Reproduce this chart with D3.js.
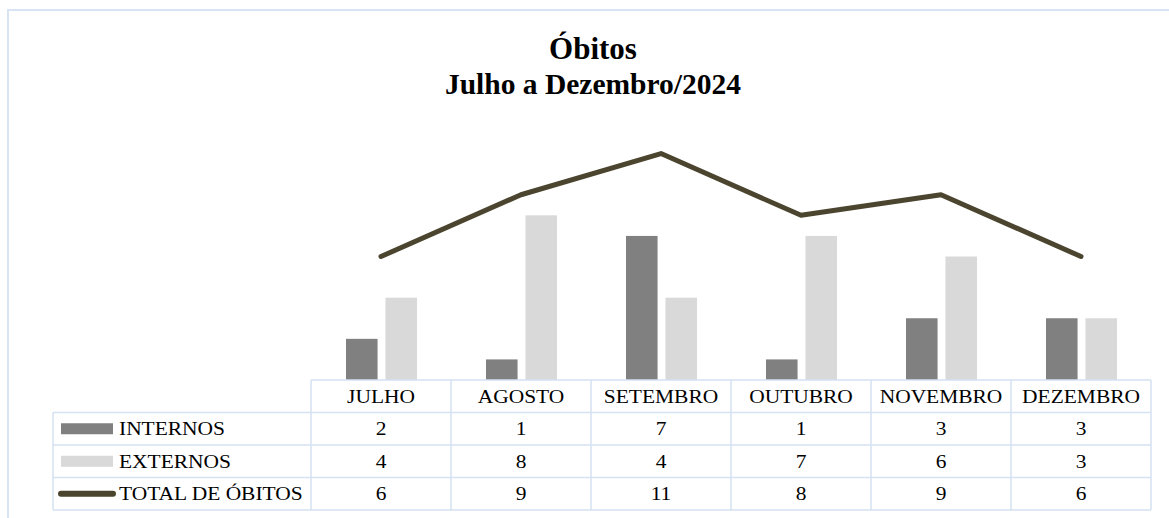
<!DOCTYPE html>
<html>
<head>
<meta charset="utf-8">
<script src="https://cdn.jsdelivr.net/npm/d3@7"></script>
<style>
  body { margin: 0; background: #fff; }
  svg { display: block; font-family: "Liberation Serif", "Times New Roman", serif; }
</style>
</head>
<body>
<div id="chart"></div>
<script>
const width = 1169;
const height = 518;

const months = ["JULHO", "AGOSTO", "SETEMBRO", "OUTUBRO", "NOVEMBRO", "DEZEMBRO"];
const internos = [2, 1, 7, 1, 3, 3];
const externos = [4, 8, 4, 7, 6, 3];
const totalObitos = [6, 9, 11, 8, 9, 6];
const seriesNames = ["INTERNOS", "EXTERNOS", "TOTAL DE ÓBITOS"];

const colorMap = {INTERNOS: "#808080", EXTERNOS: "#d9d9d9", TOTAL: "#4b452f"};
const gridColor = "#d5e2f2";

const tableLeft = 53;
const plotLeft = 311;
const plotRight = 1151;
const baseY = 380;
const rowH = 32.5;

const svg = d3.select("#chart").append("svg")
    .attr("width", width)
    .attr("height", height);

// chart area border (runs past the window on right and bottom)
svg.append("rect")
    .attr("x", 8).attr("y", 10)
    .attr("width", 1171).attr("height", 520)
    .attr("fill", "#fff")
    .attr("stroke", "#d9e4f2")
    .attr("stroke-width", 2);

// title
const title = svg.append("text")
    .attr("text-anchor", "middle")
    .attr("font-weight", "bold")
    .attr("fill", "#000");
title.append("tspan").attr("x", 593).attr("y", 59).attr("font-size", 31).text("Óbitos");
title.append("tspan").attr("x", 593).attr("y", 94).attr("font-size", 29.5).text("Julho a Dezembro/2024");

const x0 = d3.scaleBand()
    .domain(months)
    .range([plotLeft, plotRight]);

const x1 = d3.scaleBand()
    .domain(["INTERNOS", "EXTERNOS"])
    .range([35, 106])
    .paddingInner(0.2);

const y = d3.scaleLinear()
    .domain([0, 12])
    .range([baseY, 133]);

const barData = months.map((m, i) => ({month: m, values: [
    {key: "INTERNOS", value: internos[i]},
    {key: "EXTERNOS", value: externos[i]}
]}));

const groups = svg.append("g")
    .selectAll("g")
    .data(barData)
    .join("g")
    .attr("transform", d => `translate(${x0(d.month)},0)`);

groups.selectAll("rect")
    .data(d => d.values)
    .join("rect")
    .attr("x", d => x1(d.key))
    .attr("width", x1.bandwidth())
    .attr("y", d => y(d.value))
    .attr("height", d => baseY - y(d.value))
    .attr("fill", d => colorMap[d.key]);

const line = d3.line()
    .x((d, i) => x0(months[i]) + x0.bandwidth() / 2)
    .y(d => y(d));

svg.append("path")
    .attr("fill", "none")
    .attr("stroke", colorMap.TOTAL)
    .attr("stroke-width", 5)
    .attr("stroke-linecap", "round")
    .attr("stroke-linejoin", "round")
    .attr("d", line(totalObitos));

// data table
const table = svg.append("g");
const rowTop = i => baseY + rowH * i;
const rows = [internos, externos, totalObitos];

// horizontal lines
table.append("line")
    .attr("x1", plotLeft).attr("x2", plotRight)
    .attr("y1", rowTop(0)).attr("y2", rowTop(0));
[1, 2, 3, 4].forEach(i => {
    table.append("line")
        .attr("x1", tableLeft).attr("x2", plotRight)
        .attr("y1", rowTop(i)).attr("y2", rowTop(i));
});
// vertical lines
table.append("line")
    .attr("x1", tableLeft).attr("x2", tableLeft)
    .attr("y1", rowTop(1)).attr("y2", rowTop(4));
months.concat([null]).forEach((m, i) => {
    const xx = m ? x0(m) : plotRight;
    table.append("line")
        .attr("x1", xx).attr("x2", xx)
        .attr("y1", rowTop(0)).attr("y2", rowTop(4));
});
table.selectAll("line")
    .attr("stroke", gridColor)
    .attr("stroke-width", 1.5);

const fontSize = 19.5;
const stretch = 1.1;

// text stretched a little wider, like the source rendering
function cellText(sel, anchor) {
    return sel
        .attr("transform", d => `translate(${d.x},${d.y}) scale(${stretch},1)`)
        .attr("text-anchor", anchor)
        .attr("font-size", fontSize)
        .attr("fill", "#000")
        .text(d => d.label);
}

// header
table.selectAll(".head")
    .data(months.map(m => ({
        x: x0(m) + x0.bandwidth() / 2,
        y: rowTop(0) + rowH / 2 + 6.5,
        label: m
    })))
    .join("text")
    .attr("class", "head")
    .call(cellText, "middle");

// values
rows.forEach((vals, r) => {
    table.selectAll(".cell" + r)
        .data(vals.map((v, i) => ({
            x: x0(months[i]) + x0.bandwidth() / 2,
            y: rowTop(r + 1) + rowH / 2 + 6.5,
            label: v
        })))
        .join("text")
        .attr("class", "cell" + r)
        .call(cellText, "middle");
});

// legend keys + labels
seriesNames.forEach((name, r) => {
    const cy = rowTop(r + 1) + rowH / 2;
    if (r < 2) {
        table.append("rect")
            .attr("x", 61).attr("y", cy - 5.5)
            .attr("width", 52).attr("height", 11)
            .attr("fill", colorMap[name]);
    } else {
        table.append("line")
            .attr("x1", 61).attr("x2", 113)
            .attr("y1", cy).attr("y2", cy)
            .attr("stroke", colorMap.TOTAL)
            .attr("stroke-width", 6)
            .attr("stroke-linecap", "round");
    }
    table.append("text")
        .datum({x: 119, y: cy + 6.5, label: name})
        .call(cellText, "start");
});
</script>
</body>
</html>
